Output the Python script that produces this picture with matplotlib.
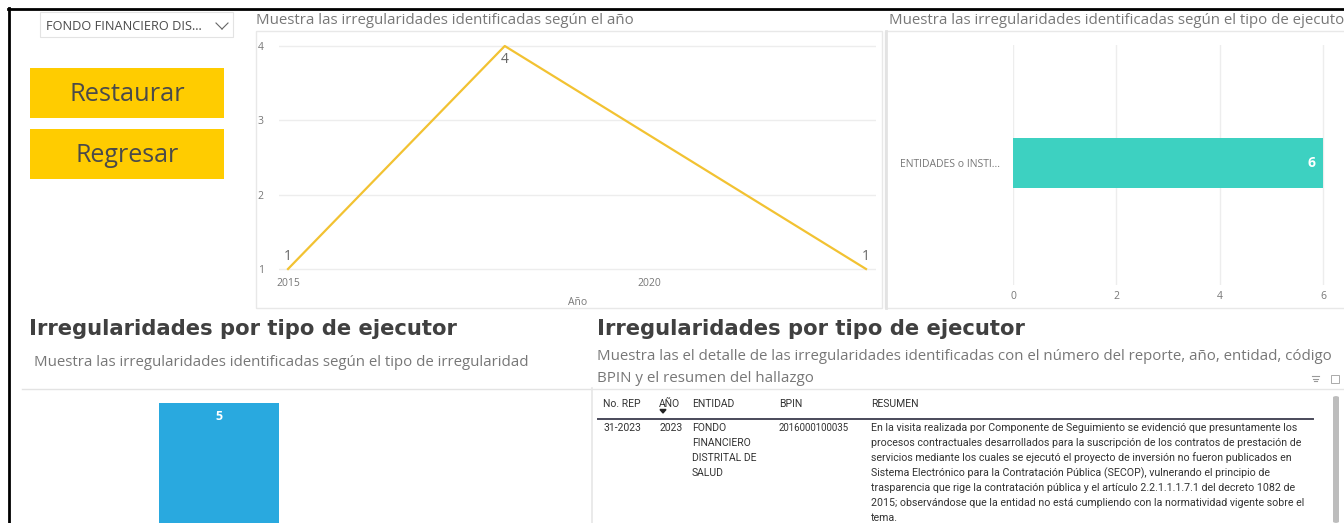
import matplotlib
matplotlib.use("Agg")
import matplotlib.pyplot as plt
from matplotlib.patches import Rectangle, FancyBboxPatch
from matplotlib.lines import Line2D

# ---------------- data ----------------
years = [2015, 2018, 2023]
year_counts = [1, 4, 1]
year_ticks = [2015, 2020]
year_yticks = [1, 2, 3, 4]

executor_types = ["ENTIDADES o INSTI..."]
executor_counts = [6]
executor_xticks = [0, 2, 4, 6]

irregularity_types = ["Tipo"]
irregularity_counts = [5]

table_headers = ["No. REP", "AÑO", "ENTIDAD", "BPIN", "RESUMEN"]
row_rep = "31-2023"
row_year = "2023"
row_entity = ["FONDO", "FINANCIERO", "DISTRITAL DE", "SALUD"]
row_bpin = "2016000100035"
row_summary = [
    "En la visita realizada por Componente de Seguimiento se evidenció que presuntamente los",
    "procesos contractuales desarrollados para la suscripción de los contratos de prestación de",
    "servicios mediante los cuales se ejecutó el proyecto de inversión no fueron publicados en",
    "Sistema Electrónico para la Contratación Pública (SECOP), vulnerando el principio de",
    "trasparencia que rige la contratación pública y el artículo 2.2.1.1.1.7.1 del decreto 1082 de",
    "2015; observándose que la entidad no está cumpliendo con la normatividad vigente sobre el",
    "tema.",
]

# ---------------- figure ----------------
W, H = 1344, 523
fig = plt.figure(figsize=(W / 100, H / 100), dpi=100)
fig.patch.set_facecolor("white")
renderer = fig.canvas.get_renderer()

FONT = "Open Sans"
GRAY = "#666666"
DARK = "#404040"


def fx(x):
    return x / W


def fy(y):
    return 1 - y / H


def txt(x, y, s, size=10, color=GRAY, ha="left", va="center", width=None,
        weight="normal", family=FONT):
    t = fig.text(fx(x), fy(y), s, fontsize=size, color=color, ha=ha, va=va,
                 fontweight=weight, family=family)
    if width is not None:
        bb = t.get_window_extent(renderer)
        t.set_fontsize(size * width / bb.width)
    return t


def rect(x0, y0, x1, y1, fc="none", ec="none", lw=1.0, z=0):
    r = Rectangle((fx(x0), fy(y1)), fx(x1) - fx(x0), fy(y0) - fy(y1),
                  transform=fig.transFigure, facecolor=fc, edgecolor=ec,
                  linewidth=lw, zorder=z)
    fig.add_artist(r)
    return r


def line(x0, y0, x1, y1, color="#E6E6E6", lw=1.0, z=1):
    fig.add_artist(Line2D([fx(x0), fx(x1)], [fy(y0), fy(y1)],
                          transform=fig.transFigure, color=color, lw=lw, zorder=z))


def add_axes_px(x0, y0, x1, y1):
    return fig.add_axes([fx(x0), fy(y1), fx(x1) - fx(x0), fy(y0) - fy(y1)])


# black frame (top / left)
line(8, 9, W, 9, color="black", lw=2.0, z=5)
line(8.5, 8, 8.5, H, color="black", lw=2.0, z=5)

# dropdown
rect(40, 12, 233, 37, ec="#E3E3E3", lw=0.8)
txt(46, 26, "FONDO FINANCIERO DIS...", size=9, color="#4a4a4a", width=156)
line(216, 23, 222, 29, color="#666666", lw=0.8)
line(222, 29, 228, 23, color="#666666", lw=0.8)

# buttons
for (y0, y1, label, w) in [(68, 118, "Restaurar", 116), (129, 179, "Regresar", 104)]:
    rect(30, y0, 224, y1, fc="#FFCC00", z=1)
    txt(127, (y0 + y1) / 2 + 2, label, size=17, color="#4a4a4a", ha="center",
        width=w)

# ---------------- line chart panel ----------------
txt(256, 20, "Muestra las irregularidades identificadas según el año", size=11,
    color="#777777", width=377)
rect(256, 31, 882, 308, ec="#E8E8E8", lw=1.0)

ax1 = add_axes_px(279, 40, 876, 272)
ax1.plot(years, year_counts, color="#F2C232", lw=1.6, zorder=3)
px_per_yr = (866 - 288) / 8
ax1.set_xlim(2015 - 9 / px_per_yr, 2023 + 10 / px_per_yr)
ppu = (269 - 46) / 3
ax1.set_ylim(1 - 3 / ppu, 4 + 6 / ppu)
ax1.set_xticks(year_ticks)
ax1.set_yticks(year_yticks)
ax1.tick_params(axis="both", length=0, labelsize=7.5, labelcolor="#777777")
ax1.tick_params(axis="y", pad=11)
ax1.tick_params(axis="x", pad=4)
for lab in ax1.get_xticklabels() + ax1.get_yticklabels():
    lab.set_family(FONT)
ax1.grid(axis="y", color="#EDEDED", lw=1.0)
for s in ax1.spines.values():
    s.set_visible(False)
ax1.set_facecolor("none")
ax1.set_xlabel("Año", fontsize=7.5, color="#777777", family=FONT, labelpad=6)
for xv, yv in zip(years, year_counts):
    off = -10 if yv == max(year_counts) else 9
    ax1.annotate(str(yv), (xv, yv), xytext=(0, off), textcoords="offset points",
                 ha="center", va="center", fontsize=10, color="#666666",
                 family=FONT)

# ---------------- horizontal bar panel ----------------
txt(889, 20, "Muestra las irregularidades identificadas según el tipo de ejecutor",
    size=11, color="#777777", width=460)
rect(885, 31, W + 5, 308, ec="#E8E8E8", lw=1.0)
line(886, 31, 886, 308, color="#E3E3E3", lw=2.0)

ax2 = add_axes_px(1013, 45, 1330, 285)
ax2.barh(range(len(executor_types)), executor_counts, height=50 / 120,
         color="#3DD1C1", zorder=3)
ax2.set_xlim(0, 6 * 317 / 310)
ax2.set_ylim(-1 + 2 / 120, 1 + 2 / 120)
ax2.invert_yaxis()
ax2.set_xticks(executor_xticks)
ax2.set_yticks(range(len(executor_types)))
ax2.set_yticklabels(executor_types)
ax2.tick_params(axis="both", length=0, labelsize=7.5, labelcolor="#777777")
ax2.tick_params(axis="x", pad=4)
ax2.tick_params(axis="y", pad=9)
for lab in ax2.get_xticklabels() + ax2.get_yticklabels():
    lab.set_family(FONT)
ax2.grid(axis="x", color="#EDEDED", lw=1.0)
for s in ax2.spines.values():
    s.set_visible(False)
ax2.set_facecolor("none")
for i, v in enumerate(executor_counts):
    ax2.text(v - 0.15, i, str(v), ha="right", va="center", color="white",
             fontsize=10, fontweight="bold", family=FONT, zorder=4)

# ---------------- bottom-left panel ----------------
txt(29, 329, "Irregularidades por tipo de ejecutor", size=16, color=DARK,
    weight="bold", family="DejaVu Sans", width=430)
txt(34, 363, "Muestra las irregularidades identificadas según el tipo de irregularidad",
    size=11, color="#777777", width=494)
line(22, 388.5, 590, 388.5, color="#E3E3E3", lw=1.0)

ax3 = add_axes_px(22, 395, 590, 650)
ax3.bar(range(len(irregularity_types)), irregularity_counts, width=1.0,
        color="#29A9DF", zorder=3)
ax3.set_xlim(-197 / 120, 371 / 120)
ppu3 = (650 - 403) / 5
ax3.set_ylim(0, 5 + 8 / ppu3)
ax3.axis("off")
for i, v in enumerate(irregularity_counts):
    ax3.text(i, v - 14 / ppu3, str(v), ha="center", va="center", color="white",
             fontsize=9, fontweight="bold", family=FONT)

# ---------------- bottom-right table panel ----------------
txt(597, 329, "Irregularidades por tipo de ejecutor", size=16, color=DARK,
    weight="bold", family="DejaVu Sans", width=430)
txt(597, 357, "Muestra las el detalle de las irregularidades identificadas con el número del reporte, año, entidad, código",
    size=11, color="#777777", width=737)
txt(597, 378, "BPIN y el resumen del hallazgo", size=11, color="#777777", width=217)

# filter / focus icons
for k, wdt in enumerate([7, 5, 3]):
    line(1315 - wdt / 2, 376 + 2.5 * k, 1315 + wdt / 2, 376 + 2.5 * k,
         color="#999999", lw=0.8)
rect(1331, 375, 1339, 383, ec="#AAAAAA", lw=0.7)

line(592, 388, 592, H, color="#E6E6E6", lw=1.2)
line(592, 388.5, W, 388.5, color="#E6E6E6", lw=1.0)

hdr_x = [603, 659, 692, 779, 871]
for x, h in zip(hdr_x, table_headers):
    txt(x, 404, h, size=7.5, color="#333333", family="Roboto")
# sort arrow under AÑO
fig.add_artist(plt.Polygon([[fx(660), fy(409.5)], [fx(666), fy(409.5)], [fx(663), fy(413)]],
                           closed=True, transform=fig.transFigure, color="#222222"))
line(598, 418.5, 1313, 418.5, color="#4a4a5a", lw=1.4)

row_y0 = 428
lh = 15
txt(603, row_y0, row_rep, size=7.5, color="#333333", family="Roboto")
txt(660, row_y0, row_year, size=7.5, color="#333333", family="Roboto")
for i, s in enumerate(row_entity):
    txt(692, row_y0 + i * lh, s, size=7.5, color="#333333", family="Roboto")
txt(779, row_y0, row_bpin, size=7.5, color="#333333", family="Roboto", width=70)
t0 = txt(871, row_y0, row_summary[0], size=7.5, color="#333333", family="Roboto",
         width=425)
sz = t0.get_fontsize()
for i, s in enumerate(row_summary[1:], start=1):
    txt(871, row_y0 + i * lh, s, size=sz, color="#333333", family="Roboto")

# scrollbar
fig.add_artist(FancyBboxPatch((fx(1333), fy(523)), fx(6), fy(396) - fy(523),
                              boxstyle="round,pad=0,rounding_size=0.003",
                              transform=fig.transFigure, facecolor="#BDBDBD",
                              edgecolor="none"))

fig.savefig("out.png", dpi=100)
